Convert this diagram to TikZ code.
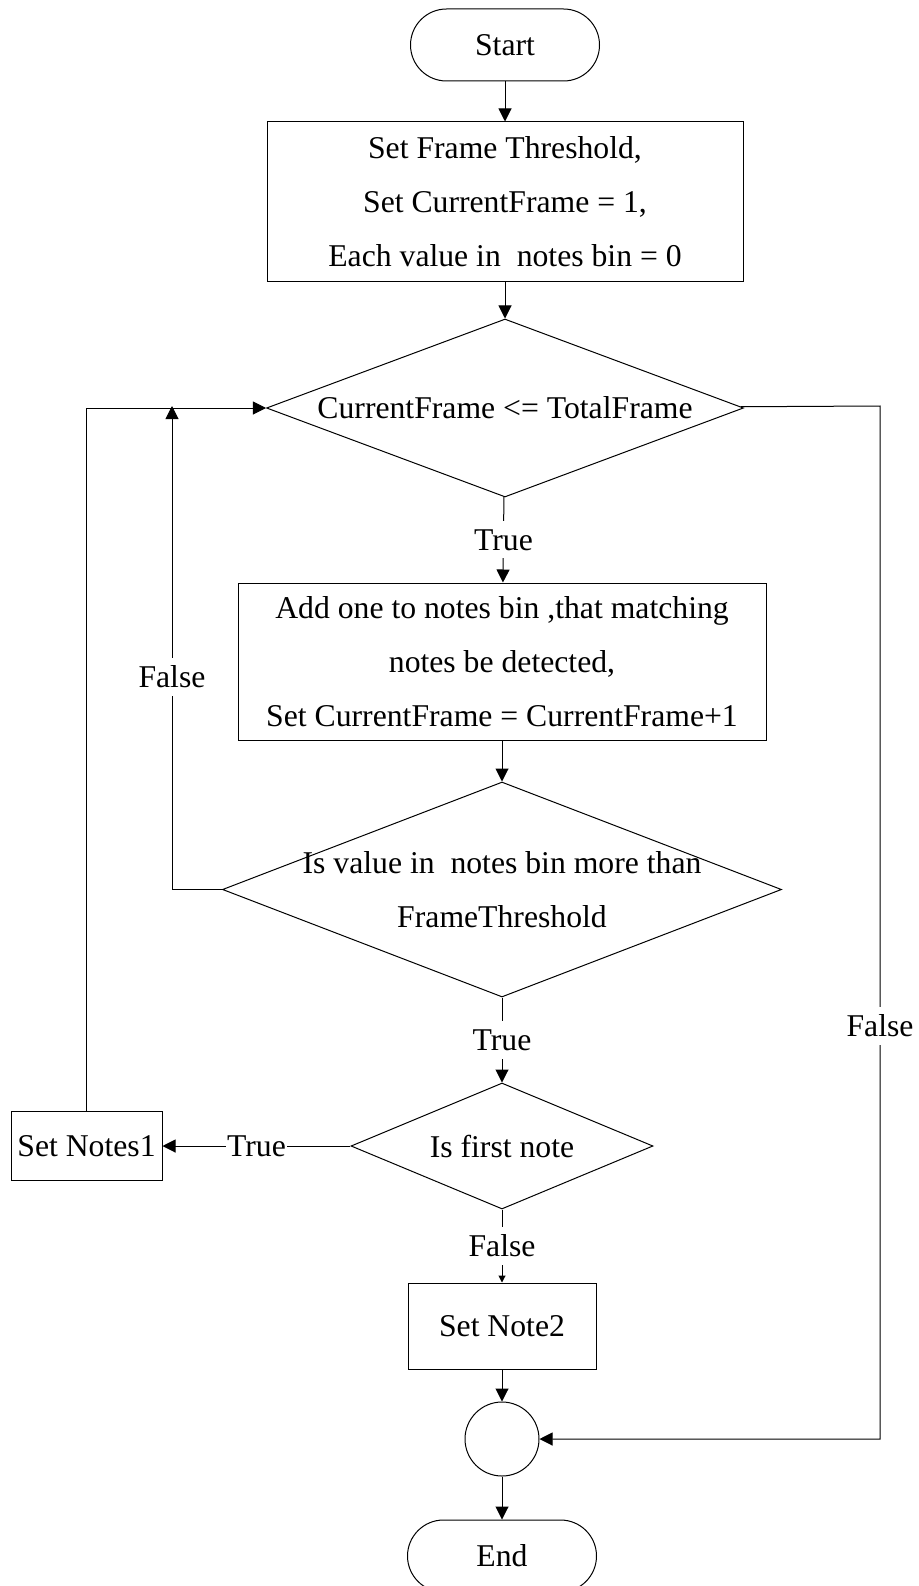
\documentclass[tikz,border=0pt]{standalone}
\usepackage{fontspec}
\setmainfont{Liberation Serif}
\usetikzlibrary{arrows.meta, positioning, shapes.geometric}
\tikzset{
	termbox/.style={draw, rounded corners=36pt, minimum width=189pt,
		minimum height=72pt, inner sep=0pt},
	procbox/.style={draw, align=center, inner sep=0pt},
	decbox/.style={draw, diamond, inner sep=0pt},
	joinpt/.style={draw, circle, minimum size=74pt, inner sep=0pt},
	flarr/.style={-{Triangle[length=13pt, width=13pt]}, line width=1pt},
	smarr/.style={-{Triangle[length=7pt, width=7pt]}, line width=1pt},
	brlbl/.style={fill=white, inner xsep=1pt, inner ysep=8pt}
}

\begin{document}
\begin{tikzpicture}[x=1pt, y=-1pt, line width=1pt,
	font=\fontsize{31.7}{54}\selectfont]
	\useasboundingbox (0,0) rectangle (918,1586);
	\node[termbox] (start) at (505,45) {Start};
	\node[procbox, minimum width=476pt, minimum height=160pt, below=40pt of start] (init)
		{Set Frame Threshold,\\Set CurrentFrame = 1,\\Each value in~ notes bin = 0};
	\node[decbox, minimum width=477pt, minimum height=178pt, below=36pt of init,
		label={center:CurrentFrame <= TotalFrame}] (loop) {};
	\node[procbox, minimum width=528pt, minimum height=157pt, below=85pt of loop, xshift=-3pt] (count)
		{Add one to notes bin ,that matching\\notes be detected,\\Set CurrentFrame = CurrentFrame+1};
	\node[decbox, minimum width=559pt, minimum height=215pt, below=41pt of count,
		label={[align=center]center:Is value in~ notes bin more than\\FrameThreshold}] (check) {};
	\node[decbox, minimum width=302pt, minimum height=126pt, below=85pt of check,
		label={center:Is first note}] (first) {};
	\node[procbox, minimum width=151pt, minimum height=69pt, left=188pt of first] (notes1) {Set Notes1};
	\node[procbox, minimum width=188pt, minimum height=86pt, below=73pt of first] (note2) {Set Note2};
	\node[joinpt, below=32pt of note2] (merge) {};
	\node[termbox, below=43pt of merge] (stop) {End};
	\coordinate (back) at (172,406);
	\coordinate (exit) at (880,406);

	\draw[flarr] (start) -- (init);
	\draw[flarr] (init) -- (loop);
	\draw[flarr] (loop) -- node[brlbl] {True} (count);
	\draw[flarr] (count) -- (check);
	\draw[flarr] (check) -- node[brlbl] {True} (first);
	\draw[flarr] (first) -- node[brlbl] {True} (notes1);
	\draw[smarr] (first) -- node[brlbl] {False} (note2);
	\draw[flarr] (note2) -- (merge);
	\draw[flarr] (merge) -- (stop);
	% loops back to the test
	\draw[flarr] (notes1) |- (loop);
	\draw[flarr] (check) -| node[brlbl, pos=0.72] {False} (back);
	\draw[flarr] (loop) -- (exit) |- node[brlbl, pos=0.3] {False} (merge);
\end{tikzpicture}
\end{document}
